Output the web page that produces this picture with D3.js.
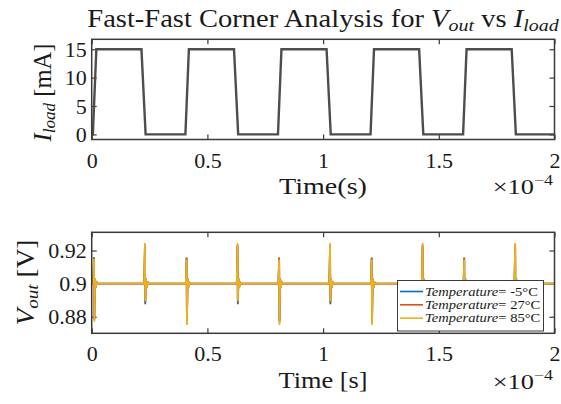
<!DOCTYPE html>
<html><head><meta charset="utf-8">
<script src="https://cdn.jsdelivr.net/npm/d3@7"></script>
<style>
body{margin:0;background:#fff}
svg{display:block}
text{font-family:"Liberation Serif","Times New Roman",serif;fill:#1a1a1a}
</style>
</head><body><svg id="c" width="561" height="404"></svg>
<script>
// ---------- data (time in microseconds; axis shows x 10^-4 s) ----------
const xTickValues = [0, 50, 100, 150, 200];
const xTickLabels = ["0", "0.5", "1", "1.5", "2"];
const iTickValues = [0, 5, 10, 15];
const iTickLabels = ["0", "5", "10", "15"];
const vTickValues = [0.88, 0.9, 0.92];
const vTickLabels = ["0.88", "0.9", "0.92"];

const iloadTime  = [0, 0.5, 2, 21.5, 23.3, 40.5, 42, 61.5, 63.3, 80.5, 82, 101.5, 103.3, 120.5, 122, 141.5, 143.3, 160.5, 162, 181.5, 183.3, 200];
const iloadValue = [0, 0,   15, 15,  0,    0,    15, 15,   0,    0,    15, 15,    0,     0,     15,  15,    0,     0,     15,  15,    0,     0];

const spikeTime = [1, 23, 41, 63, 81, 103, 121, 143, 161, 183];
const vBase = 0.9;
const ringTime = [0.45, 0.75, 1.05, 1.4];
const ringOffset = [0.003, -0.0025, 0.0012, 0];

const seriesNames  = ["-5", "27", "85"];
const seriesColors = ["#0072BD", "#D95319", "#EDB120"];
const highM5  = [0.9160, 0.9225, 0.9158, 0.9225, 0.9158, 0.9225, 0.9158, 0.9225, 0.9158, 0.9225];
const lowM5   = [0.8785, 0.8876, 0.8775, 0.8876, 0.8775, 0.8876, 0.8775, 0.8876, 0.8775, 0.8876];
const high27  = [0.9155, 0.9235, 0.9155, 0.9235, 0.9155, 0.9235, 0.9155, 0.9235, 0.9155, 0.9235];
const low27   = [0.8780, 0.8886, 0.8765, 0.8886, 0.8765, 0.8886, 0.8765, 0.8886, 0.8765, 0.8886];
const high85  = [0.9148, 0.9245, 0.9145, 0.9245, 0.9145, 0.9245, 0.9145, 0.9245, 0.9145, 0.9245];
const low85   = [0.8770, 0.8896, 0.8750, 0.8896, 0.8750, 0.8896, 0.8750, 0.8896, 0.8750, 0.8896];
const seriesHigh = [highM5, high27, high85];
const seriesLow  = [lowM5, low27, low85];

// ---------- layout ----------
const svg = d3.select("#c");
const X0 = 91.7, X1 = 554.5;
const top1 = 39.3, bot1 = 139.5;
const top2 = 232.3, bot2 = 333.3;
const x = d3.scaleLinear().domain([0, 200]).range([X0, X1]);
const yI = d3.scaleLinear().domain([-0.9, 16.75]).range([bot1, top1]);
const yV = d3.scaleLinear().domain([0.87, 0.931]).range([bot2, top2]);
const axisColor = "#3a3a3a";

function fitX(sel, target, ax) {
  const w = sel.node().getBBox().width;
  const s = target / w;
  sel.attr("transform", `translate(${ax},0) scale(${s},1) translate(${-ax},0)`);
}

function drawAxes(y, yTop, yBot, yTicks, yLabels, id) {
  const g = svg.append("g");
  g.append("rect").attr("x", X0).attr("y", yTop).attr("width", X1 - X0).attr("height", yBot - yTop)
    .attr("fill", "#fff");
  const tick = 5;
  const gb = g.append("g").attr("transform", `translate(0,${yBot})`)
    .call(d3.axisBottom(x).tickValues(xTickValues).tickFormat((d, i) => xTickLabels[i])
      .tickSizeInner(-tick).tickSizeOuter(0).tickPadding(12.5));
  const gt = g.append("g").attr("transform", `translate(0,${yTop})`)
    .call(d3.axisTop(x).tickValues(xTickValues).tickFormat("").tickSizeInner(-tick).tickSizeOuter(0));
  const gl = g.append("g").attr("transform", `translate(${X0},0)`)
    .call(d3.axisLeft(y).tickValues(yTicks).tickFormat((d, i) => yLabels[i])
      .tickSizeInner(-tick).tickSizeOuter(0).tickPadding(5));
  const gr = g.append("g").attr("transform", `translate(${X1},0)`)
    .call(d3.axisRight(y).tickValues(yTicks).tickFormat("").tickSizeInner(-tick).tickSizeOuter(0));
  [gb, gt, gl, gr].forEach(a => {
    a.attr("font-family", null);
    a.select(".domain").remove();
    a.selectAll("line").attr("stroke", axisColor).attr("stroke-width", 1.2);
    a.selectAll("text").attr("font-size", 22).attr("fill", "#1a1a1a");
  });
  svg.append("clipPath").attr("id", id).append("rect")
    .attr("x", X0).attr("y", yTop).attr("width", X1 - X0).attr("height", yBot - yTop);
  return g;
}

function drawBox(yTop, yBot) {
  svg.append("rect").attr("x", X0).attr("y", yTop).attr("width", X1 - X0).attr("height", yBot - yTop)
    .attr("fill", "none").attr("stroke", axisColor).attr("stroke-width", 1.5);
}

// ---------- top plot ----------
drawAxes(yI, top1, bot1, iTickValues, iTickLabels, "clip1");
const iData = iloadTime.map((t, i) => [t, iloadValue[i]]);
svg.append("path").attr("clip-path", "url(#clip1)")
  .attr("d", d3.line().x(d => x(d[0])).y(d => yI(d[1]))(iData))
  .attr("fill", "none").attr("stroke", "#4d4d4d").attr("stroke-width", 2.4).attr("stroke-linejoin", "miter");
drawBox(top1, bot1);

// ---------- bottom plot ----------
drawAxes(yV, top2, bot2, vTickValues, vTickLabels, "clip2");
function seriesPoints(k) {
  const pts = [[0, vBase]];
  spikeTime.forEach((t, i) => {
    pts.push([t - 0.3, vBase]);
    pts.push([t, seriesHigh[k][i]]);
    pts.push([t + 0.15, seriesLow[k][i]]);
    ringTime.forEach((rt, j) => pts.push([t + rt, vBase + ringOffset[j]]));
  });
  pts.push([200, vBase]);
  return pts;
}
const vLine = d3.line().x(d => x(d[0])).y(d => yV(d[1]));
seriesNames.forEach((n, k) => {
  svg.append("path").attr("clip-path", "url(#clip2)")
    .attr("d", vLine(seriesPoints(k)))
    .attr("fill", "none").attr("stroke", seriesColors[k]).attr("stroke-width", 1.8);
});
drawBox(top2, bot2);

// ---------- legend ----------
const lg = svg.append("g");
lg.append("rect").attr("x", 397.5).attr("y", 280.5).attr("width", 146).attr("height", 50.5)
  .attr("fill", "#fff").attr("stroke", "#262626").attr("stroke-width", 0.9);
const rowY = [291.5, 304.8, 318.2];
let legendScale = null;
seriesNames.forEach((n, k) => {
  lg.append("line").attr("x1", 400).attr("x2", 423).attr("y1", rowY[k]).attr("y2", rowY[k])
    .attr("stroke", seriesColors[k]).attr("stroke-width", 1.6);
  const t = lg.append("text").attr("x", 425).attr("y", rowY[k] + 4.2).attr("font-size", 12.5);
  t.append("tspan").attr("font-style", "italic").text("Temperature");
  t.append("tspan").text("= " + n + "°C");
  if (legendScale === null) legendScale = 113 / t.node().getBBox().width;
  t.attr("transform", `translate(425,0) scale(${legendScale},1) translate(-425,0)`);
});

// ---------- titles & labels ----------
const title = svg.append("text").attr("x", 323).attr("y", 27).attr("text-anchor", "middle").attr("font-size", 25);
title.append("tspan").text("Fast-Fast Corner Analysis for ");
title.append("tspan").attr("font-style", "italic").text("V");
title.append("tspan").attr("font-style", "italic").attr("font-size", 17.5).attr("dy", 4).text("out");
title.append("tspan").attr("dy", -4).text(" vs ");
title.append("tspan").attr("font-style", "italic").text("I");
title.append("tspan").attr("font-style", "italic").attr("font-size", 17.5).attr("dy", 4).text("load");
fitX(title, 472, 323);

function xLabel(str, yBase) {
  return svg.append("text").attr("x", 323).attr("y", yBase).attr("text-anchor", "middle").attr("font-size", 24).text(str);
}
fitX(xLabel("Time(s)", 194), 88, 323);
fitX(xLabel("Time [s]", 388), 89, 323);

function expLabel(yBase) {
  const t = svg.append("text").attr("x", 553).attr("y", yBase).attr("text-anchor", "end").attr("font-size", 22);
  t.append("tspan").text("×10");
  t.append("tspan").attr("font-size", 15).attr("dy", -9).text("−4");
  fitX(t, 61, 553);
}
expLabel(194.5);
expLabel(389);

function yLabel(cx, cy, len, parts) {
  const g = svg.append("g");
  const t = g.append("text").attr("x", 0).attr("y", 0).attr("text-anchor", "middle").attr("font-size", 25);
  parts.forEach(p => {
    const s = t.append("tspan").text(p.t);
    if (p.it) s.attr("font-style", "italic");
    if (p.fs) s.attr("font-size", p.fs);
    if (p.dy) s.attr("dy", p.dy);
  });
  const w = t.node().getBBox().width;
  g.attr("transform", `translate(${cx},${cy}) rotate(-90) scale(${len / w},1)`);
}
yLabel(51, 92.5, 99, [{t: "I", it: true}, {t: "load", it: true, fs: 17.5, dy: 4}, {t: " [mA]", dy: -4}]);
yLabel(33.5, 282.5, 86, [{t: "V", it: true}, {t: "out", it: true, fs: 17.5, dy: 4}, {t: " [V]", dy: -4}]);
</script>
</body></html>
